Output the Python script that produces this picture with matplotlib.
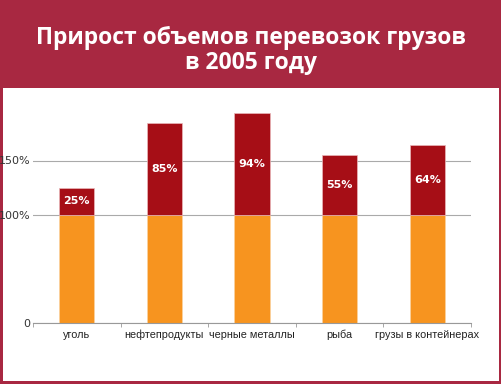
import numpy as np
import matplotlib.pyplot as plt
from matplotlib.patches import Rectangle

# данные
categories = ['уголь', 'нефтепродукты', 'черные металлы', 'рыба', 'грузы в контейнерах']
base = [100, 100, 100, 100, 100]
growth = [25, 85, 94, 55, 64]
growth_labels = ['25%', '85%', '94%', '55%', '64%']
ytick_vals = [0, 100, 150]
ytick_labels = ['0', '100%', '150%']

banner = '#a82841'
dark_red = '#a60e16'
orange = '#f7941f'

plt.rcParams['font.family'] = ['DejaVu Sans']

fig = plt.figure(figsize=(5.02, 3.84), dpi=100)
fig.patch.set_facecolor(banner)

# белая панель
fig.patches.append(Rectangle((3 / 502, 3 / 384), 496 / 502, 293 / 384,
                             transform=fig.transFigure, facecolor='white',
                             edgecolor='none', zorder=0))

fig.text(0.5, 0.868, 'Прирост объемов перевозок грузов\nв 2005 году',
         ha='center', va='center', color='white', fontsize=16.5,
         fontweight='bold', family='Open Sans', linespacing=1.05)

ax = fig.add_axes([33 / 502, 61 / 384, 438 / 502, 234 / 384])
ax.set_facecolor('none')
ax.set_zorder(2)

x = np.arange(len(categories))
ax.bar(x, base, width=0.4, color=orange, edgecolor='#fbd3a0', linewidth=0.5, zorder=3)
ax.bar(x, growth, bottom=base, width=0.4, color=dark_red, edgecolor='#e9b8ba',
       linewidth=0.5, zorder=3)

for xi, b, g, lab in zip(x, base, growth, growth_labels):
    ax.text(xi, b + g / 2, lab, ha='center', va='center', color='white',
            fontsize=8, fontweight='bold', zorder=4)

ax.set_xlim(-0.5, len(categories) - 0.5)
ax.set_ylim(0, 216)
ax.set_yticks(ytick_vals)
ax.set_yticklabels(ytick_labels, fontsize=8, color='#333333')
ax.set_xticks(x)
ax.set_xticklabels(categories, fontsize=7.8, color='#222222', family='Liberation Sans')
ax.set_xticks(np.arange(len(categories) + 1) - 0.5, minor=True)
ax.tick_params(axis='x', which='major', length=0, pad=5)
ax.tick_params(axis='x', which='minor', length=3, color='#999999', direction='out')
ax.tick_params(axis='y', length=0, pad=2)

ax.grid(axis='y', color='#aaaaaa', linewidth=0.8, zorder=1)
for s in ['top', 'right', 'left']:
    ax.spines[s].set_visible(False)
ax.spines['bottom'].set_color('#999999')
ax.spines['bottom'].set_zorder(5)

fig.savefig('out.png', dpi=100, facecolor=banner)
